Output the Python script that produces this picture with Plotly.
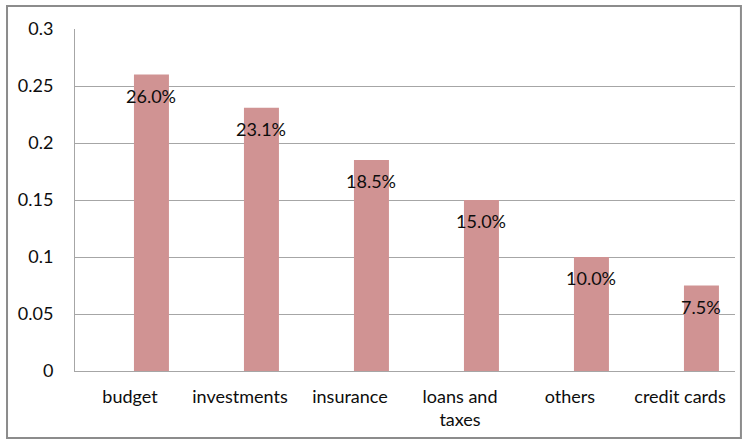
import plotly.graph_objects as go

categories = ["budget", "investments", "insurance", "loans and<br>taxes", "others", "credit cards"]
shares = [0.26, 0.231, 0.185, 0.15, 0.10, 0.075]
share_labels = ["26.0%", "23.1%", "18.5%", "15.0%", "10.0%", "7.5%"]
y_ticks = [0, 0.05, 0.1, 0.15, 0.2, 0.25, 0.3]
y_tick_text = ["0", "0.05", "0.1", "0.15", "0.2", "0.25", "0.3"]

FONT = "Lato"
TEXT = "#0d0d0d"
BAR_COLOR = "#D09393"
GRID = "#A6A6A6"

# bar sits in the right half of each category slot
BAR_WIDTH = 0.318
BAR_OFFSET = 0.036

fig = go.Figure()
fig.add_trace(go.Bar(
    x=categories,
    y=shares,
    width=BAR_WIDTH,
    offset=BAR_OFFSET,
    marker=dict(color=BAR_COLOR, line=dict(width=0)),
    hoverinfo="skip",
))

# value labels just under the top of each bar, centred on the bar
label_dx = BAR_OFFSET + BAR_WIDTH / 2
for i, (val, lab) in enumerate(zip(shares, share_labels)):
    fig.add_annotation(
        x=i + label_dx, y=val, text=lab, showarrow=False,
        xanchor="center", yanchor="top", yshift=-8,
        font=dict(family=FONT, size=18, color=TEXT),
    )

# outer chart frame
fig.add_shape(
    type="rect", xref="paper", yref="paper",
    x0=-0.1030, x1=1.009, y0=-0.196, y1=1.067,
    line=dict(color="#8C8C8C", width=2), fillcolor="rgba(0,0,0,0)",
    layer="below",
)

fig.update_layout(
    width=748, height=444,
    margin=dict(l=75, r=13, t=29, b=73),
    paper_bgcolor="white", plot_bgcolor="white",
    showlegend=False,
    font=dict(family=FONT, size=18, color=TEXT),
    xaxis=dict(
        range=[-0.5, 5.5],
        showline=True, linecolor=GRID, linewidth=1,
        showgrid=False, ticks="", ticklabelstandoff=9,
        tickfont=dict(family=FONT, size=18, color=TEXT),
    ),
    yaxis=dict(
        range=[0, 0.3], tickvals=y_ticks, ticktext=y_tick_text,
        showline=True, linecolor=GRID, linewidth=1,
        showgrid=True, gridcolor=GRID, gridwidth=1,
        zeroline=False, ticks="", ticklabelstandoff=17,
        tickfont=dict(family=FONT, size=18, color=TEXT),
    ),
)

fig.write_html("out.html")
